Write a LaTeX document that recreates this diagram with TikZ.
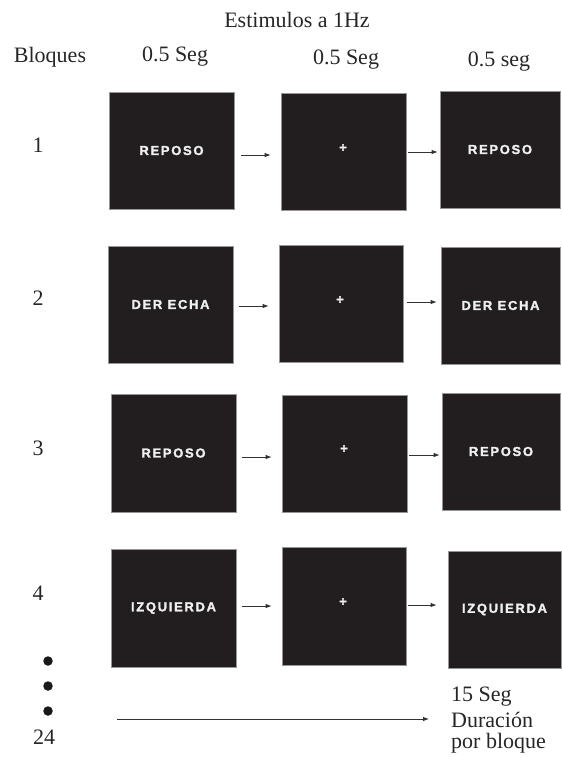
\documentclass[tikz,border=0pt]{standalone}
\usepackage{fontspec}
\setmainfont{Liberation Serif}
\newfontfamily\boxfont[LetterSpace=13,FakeBold=1.6,UprightFont=*-Bold]{LiberationSans}
\newfontfamily\crossfont[FakeBold=2,UprightFont=*-Bold]{LiberationSans}
\usetikzlibrary{arrows.meta}
\definecolor{boxfill}{RGB}{34,30,31}
\definecolor{boxedge}{RGB}{150,150,150}
\definecolor{boxtext}{RGB}{240,240,240}
\definecolor{arrowgray}{RGB}{50,50,50}
\tikzset{
  stim/.style={draw=boxedge, line width=0.6pt, fill=boxfill, inner sep=0pt,
    text=boxtext, font=\boxfont\fontsize{13}{15}\selectfont},
  crossmark/.style={text=boxtext, inner sep=0pt, font=\crossfont\fontsize{13}{14}\selectfont},
  lbl/.style={inner sep=0pt, font=\fontsize{22}{25}\selectfont, text=black!85},
  arr/.style={draw=arrowgray, line width=0.9pt, -{Latex[length=6pt,width=4.5pt]}},
  dotmark/.style={circle, fill=black!90, inner sep=0pt, minimum size=9.5pt}
}
\begin{document}
\begin{tikzpicture}[x=1pt,y=-1pt]
\useasboundingbox (0,0) rectangle (562,758);
% headers
\node[lbl] (title) at (297,20) {Estimulos a 1Hz};
\node[lbl] (bloques) at (50,57) {Bloques};
\node[lbl] (h1) at (175,57) {0.5 Seg};
\node[lbl] (h2) at (346,60) {0.5 Seg};
\node[lbl] (h3) at (499,62) {0.5 seg};
% row labels
\node[lbl] (n1) at (38,145) {1};
\node[lbl] (n2) at (38,298) {2};
\node[lbl] (n3) at (38,448) {3};
\node[lbl] (n4) at (38,593) {4};
\node[dotmark] (d1) at (48,661) {};
\node[dotmark] (d2) at (48,686) {};
\node[dotmark] (d3) at (48,711) {};
\node[lbl] (n24) at (44,737) {24};
% row 1
\node[stim, minimum width=125pt, minimum height=117pt] (b11) at (171.5,150.5) {REPOSO};
\node[stim, minimum width=125pt, minimum height=117pt] (b12) at (343.5,151.5) {};
\node[stim, minimum width=120pt, minimum height=117pt] (b13) at (500,149.5) {REPOSO};
\node[crossmark] (c1) at (343,148) {+};
% row 2
\node[stim, minimum width=125pt, minimum height=117pt] (b21) at (170.5,304.5) {DER ECHA};
\node[stim, minimum width=124pt, minimum height=117pt] (b22) at (341,303.5) {};
\node[stim, minimum width=119pt, minimum height=117pt] (b23) at (500.5,305.5) {DER ECHA};
\node[crossmark] (c2) at (340,300) {+};
% row 3
\node[stim, minimum width=125pt, minimum height=118pt] (b31) at (173.5,453) {REPOSO};
\node[stim, minimum width=125pt, minimum height=117pt] (b32) at (344.5,453.5) {};
\node[stim, minimum width=118pt, minimum height=117pt] (b33) at (501,451.5) {REPOSO};
\node[crossmark] (c3) at (344,449) {+};
% row 4
\node[stim, minimum width=125pt, minimum height=118pt] (b41) at (173.5,608) {IZQUIERDA};
\node[stim, minimum width=124pt, minimum height=118pt] (b42) at (344,606) {};
\node[stim, minimum width=113pt, minimum height=117pt] (b43) at (504.5,609.5) {IZQUIERDA};
\node[crossmark] (c4) at (343,602) {+};
% arrows
\draw[arr] ([xshift=7pt,yshift=-4.5pt]b11.east) -- ([xshift=-10pt,yshift=-4.5pt]b11.east -| b12.west);
\draw[arr] ([xshift=2pt,yshift=-0.5pt]b12.east) -- ([xshift=-2pt,yshift=-0.5pt]b12.east -| b13.west);
\draw[arr] ([xshift=6pt,yshift=-1.5pt]b21.east) -- ([xshift=-10pt,yshift=-1.5pt]b21.east -| b22.west);
\draw[arr] ([xshift=4pt,yshift=1.5pt]b22.east) -- ([xshift=-4pt,yshift=1.5pt]b22.east -| b23.west);
\draw[arr] ([xshift=6pt,yshift=-4pt]b31.east) -- ([xshift=-10pt,yshift=-4pt]b31.east -| b32.west);
\draw[arr] ([xshift=2pt,yshift=-1.5pt]b32.east) -- ([xshift=-2pt,yshift=-1.5pt]b32.east -| b33.west);
\draw[arr] ([xshift=6pt,yshift=2pt]b41.east) -- ([xshift=-10pt,yshift=2pt]b41.east -| b42.west);
\draw[arr] ([xshift=2pt,yshift=1pt]b42.east) -- ([xshift=-11pt,yshift=1pt]b42.east -| b43.west);
% duration
\node[lbl, anchor=west] (t15) at (451,697) {15 Seg};
\node[lbl, anchor=west] (tdur) at (451,720) {Duración};
\node[lbl, anchor=west] (tpor) at (451,743) {por bloque};
\coordinate (longstart) at (117,719);
\draw[arr] (longstart) -- ([xshift=-22pt]longstart -| tdur.west);
\end{tikzpicture}
\end{document}
